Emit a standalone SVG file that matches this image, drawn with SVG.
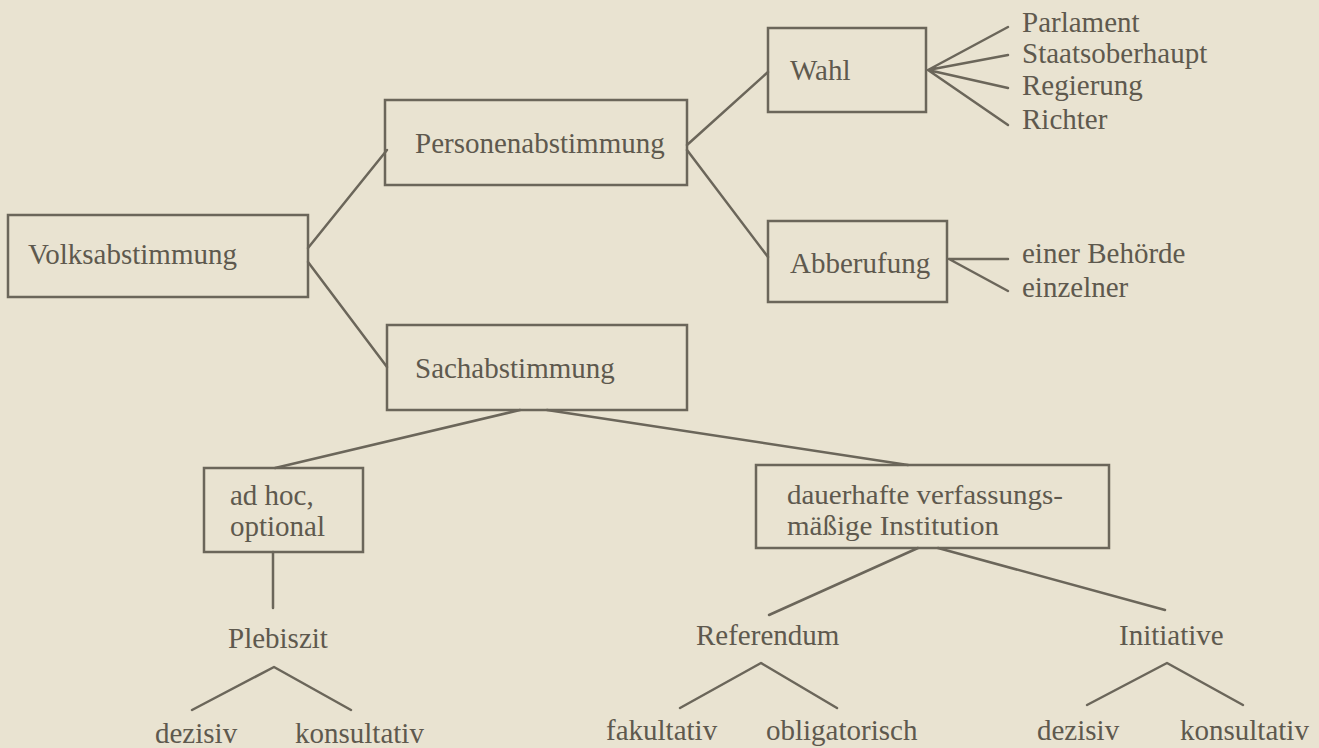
<svg xmlns="http://www.w3.org/2000/svg" width="1319" height="748" viewBox="0 0 1319 748">
<style>
.box{fill:none;stroke:#6b665a;stroke-width:2.5}
.ln{fill:none;stroke:#6b665a;stroke-width:2.5;stroke-linecap:round;stroke-linejoin:round}
text{font-family:"Liberation Serif","Times New Roman",serif;font-size:29px;fill:#5e594e}
</style>
<rect width="1319" height="748" fill="#e9e3d1"/>
<g id="connectors">
<path class="ln" d="M308,248 L387,150"/>
<path class="ln" d="M308,262 L387,367"/>
<path class="ln" d="M687,145 L768,72"/>
<path class="ln" d="M687,150 L768,257"/>
<path class="ln" d="M928,70 L1008,27 M928,70 L1008,55 M928,70 L1008,88 M928,70 L1008,125"/>
<path class="ln" d="M949,259 L1008,259 M949,259 L1008,291"/>
<path class="ln" d="M520,410 L275,468"/>
<path class="ln" d="M547,410 L908,465"/>
<path class="ln" d="M273,552 L273,608"/>
<path class="ln" d="M192,710 L274,667 L351,710"/>
<path class="ln" d="M918,548 L769,615"/>
<path class="ln" d="M938,548 L1165,610"/>
<path class="ln" d="M680,708 L761,663 L837,708"/>
<path class="ln" d="M1087,705 L1167,663 L1243,705"/>
</g>
<g id="volksabstimmung"><rect class="box" x="8" y="215" width="300" height="82"/><text x="28" y="264">Volksabstimmung</text></g>
<g id="personenabstimmung"><rect class="box" x="385" y="100" width="302" height="85"/><text x="415" y="153">Personenabstimmung</text></g>
<g id="sachabstimmung"><rect class="box" x="387" y="325" width="300" height="85"/><text x="415" y="378">Sachabstimmung</text></g>
<g id="wahl"><rect class="box" x="768" y="28" width="158" height="84"/><text x="790" y="80">Wahl</text></g>
<g id="abberufung"><rect class="box" x="768" y="221" width="179" height="81"/><text x="790" y="273">Abberufung</text></g>
<g id="wahl-items">
<text x="1022" y="32">Parlament</text>
<text x="1022" y="63">Staatsoberhaupt</text>
<text x="1022" y="95">Regierung</text>
<text x="1022" y="129">Richter</text>
</g>
<g id="abberufung-items">
<text x="1022" y="263">einer Behörde</text>
<text x="1022" y="297">einzelner</text>
</g>
<g id="adhoc"><rect class="box" x="204" y="468" width="159" height="84"/><text x="230" y="505">ad hoc,</text><text x="230" y="536">optional</text></g>
<g id="dauerhafte"><rect class="box" x="756" y="465" width="353" height="83"/><text x="787" y="504" style="font-size:28px" textLength="276" lengthAdjust="spacingAndGlyphs">dauerhafte verfassungs-</text><text x="787" y="535" style="font-size:28px" textLength="212" lengthAdjust="spacingAndGlyphs">mäßige Institution</text></g>
<g id="plebiszit"><text x="228" y="648">Plebiszit</text></g>
<g id="referendum"><text x="696" y="645">Referendum</text></g>
<g id="initiative"><text x="1119" y="645">Initiative</text></g>
<g id="leaves">
<text x="155" y="743">dezisiv</text>
<text x="295" y="743">konsultativ</text>
<text x="606" y="740">fakultativ</text>
<text x="766" y="740">obligatorisch</text>
<text x="1037" y="740">dezisiv</text>
<text x="1180" y="740">konsultativ</text>
</g>
</svg>
